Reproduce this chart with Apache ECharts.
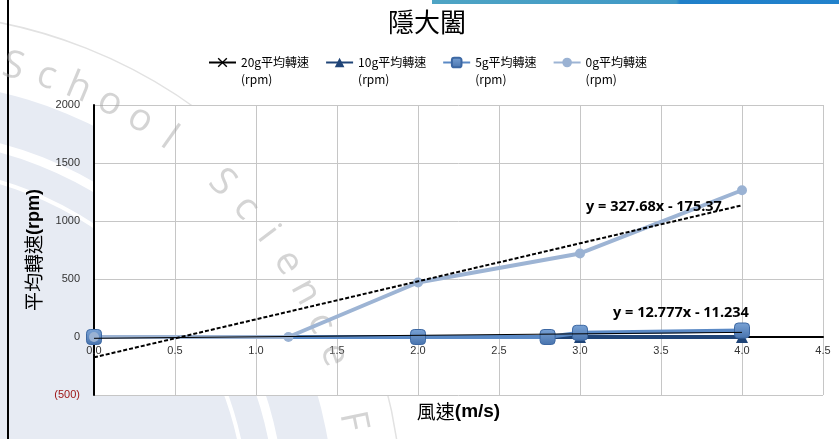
<!DOCTYPE html>
<html>
<head>
<meta charset="utf-8">
<title>隱大闔</title>
<script src="https://cdn.jsdelivr.net/npm/echarts@6/dist/echarts.min.js"></script>
<style>
  html, body { margin: 0; padding: 0; background: #fff; }
  #chart { width: 839px; height: 439px; }
</style>
</head>
<body>
<div id="chart"></div>
<script>
// 風速(m/s) 對應各載重的平均轉速(rpm)
const seriesNames = ['20g平均轉速', '10g平均轉速', '5g平均轉速', '0g平均轉速'];
const wind20 = [0, 2.0, 2.8, 3.0, 4.0];
const rpm20 = [0, 0, 0, 0, 0];
const wind10 = [0, 2.0, 2.8, 3.0, 4.0];
const rpm10 = [0, 0, 0, 0, 0];
const wind5 = [0, 2.0, 2.8, 3.0, 4.0];
const rpm5 = [0, 0, 0, 36, 56];
const wind0 = [0, 1.2, 2.0, 3.0, 4.0];
const rpm0 = [0, 0, 470, 720, 1265];

// 趨勢線兩端點 + 公式
const trendWind = [0, 4.0];
const trend0 = [-175.37, 1135.35];
const trend5 = [-11.234, 39.874];
const trendText = ['y = 327.68x - 175.37', 'y = 12.777x - 11.234'];

const watermark = 'School Science F';

const CJK = '"Noto Sans CJK TC", "Noto Sans CJK SC", sans-serif';
const LAT = '"Liberation Sans", Arial, sans-serif';
const OPEN = '"Open Sans", "Liberation Sans", sans-serif';

const pairs = (xs, ys) => xs.map((x, i) => [x, ys[i]]);

// 背景浮水印 (圓弧 + 字母)
const cx = -98, cy = 513;
const graphics = [
  { type: 'circle', shape: { cx: cx, cy: cy, r: 432 }, style: { fill: '#e7ebf3' }, z: 0, silent: true },
  { type: 'circle', shape: { cx: cx, cy: cy, r: 345 }, style: { fill: 'none', stroke: '#fff', lineWidth: 4 }, z: 0, silent: true },
  { type: 'circle', shape: { cx: cx, cy: cy, r: 378 }, style: { fill: 'none', stroke: '#fff', lineWidth: 9 }, z: 0, silent: true },
  { type: 'circle', shape: { cx: cx, cy: cy, r: 500 }, style: { fill: 'none', stroke: '#e2e2e2', lineWidth: 1.5 }, z: 0, silent: true },
  { type: 'line', shape: { x1: 8, y1: 0, x2: 8, y2: 439 }, style: { stroke: '#000', lineWidth: 2 }, z: 0, silent: true },
  {
    type: 'rect', shape: { x: 432, y: 0, width: 407, height: 4 }, z: 0, silent: true,
    style: {
      fill: new echarts.graphic.LinearGradient(0, 0, 1, 0, [
        { offset: 0, color: '#4ea4c4' },
        { offset: 0.6, color: '#3f98c6' },
        { offset: 0.61, color: '#1f7fc9' },
        { offset: 1, color: '#2282cc' }
      ])
    }
  }
];

let ang = -76;
for (const ch of watermark) {
  if (ch !== ' ') {
    const t = ang * Math.PI / 180;
    graphics.push({
      type: 'text', z: 3, silent: true,
      x: cx + 460 * Math.cos(t), y: cy + 460 * Math.sin(t),
      rotation: -(ang + 90) * Math.PI / 180,
      style: {
        text: ch, fontSize: 38, fontFamily: OPEN,
        fill: 'rgba(165,165,165,0.48)', align: 'center', verticalAlign: 'middle'
      }
    });
  }
  ang += 4.3;
}

// 趨勢線公式
graphics.push(
  { type: 'text', z: 8, silent: true, x: 654, y: 207,
    style: { text: trendText[0], fontSize: 14.5, fontWeight: 'bold', fontFamily: OPEN, fill: '#000', align: 'center', verticalAlign: 'middle' } },
  { type: 'text', z: 8, silent: true, x: 681, y: 313,
    style: { text: trendText[1], fontSize: 14.5, fontWeight: 'bold', fontFamily: OPEN, fill: '#000', align: 'center', verticalAlign: 'middle' } }
);

const xMark = 'path://M0,1L1,0L5,4L9,0L10,1L6,5L10,9L9,10L5,6L1,10L0,9L4,5Z';

const chart = echarts.init(document.getElementById('chart'));
chart.setOption({
  animation: false,
  backgroundColor: 'transparent',
  title: {
    text: '隱大闔',
    left: 388,
    top: 9,
    padding: 0,
    textStyle: { fontSize: 26, fontWeight: 'normal', fontFamily: CJK, color: '#000' }
  },
  legend: {
    data: seriesNames,
    left: 203,
    top: 32,
    itemGap: 16,
    itemWidth: 27,
    itemHeight: 12,
    // 第一行留空, 讓圖示對齊名稱那一行
    formatter: name => '\n' + name + '\n(rpm)',
    textStyle: { fontSize: 12, fontFamily: CJK, color: '#000', lineHeight: 17 }
  },
  grid: {
    left: 94, right: 16, top: 105, bottom: 44,
    outerBoundsMode: 'none',
    containLabel: false,
    show: true, backgroundColor: '#fff', borderWidth: 0, z: 1
  },
  graphic: graphics,
  xAxis: {
    type: 'value', min: 0, max: 4.5, interval: 0.5, z: 2,
    // 橫軸畫在 y=0 的位置 (0 在格線底部上方 58px)
    offset: -58,
    axisLine: { show: true, onZero: false, lineStyle: { color: '#000', width: 2 } },
    axisTick: { show: false },
    axisLabel: { margin: 8, fontSize: 11, fontFamily: LAT, color: '#333', formatter: v => v.toFixed(1) },
    splitLine: { show: true, lineStyle: { color: '#c6c6c6', width: 1 } },
    name: '{a|風速}{b|(m/s)}',
    nameLocation: 'middle',
    nameGap: 65,
    nameTextStyle: {
      rich: {
        a: { fontSize: 19, fontFamily: CJK, color: '#000' },
        b: { fontSize: 19, fontFamily: LAT, fontWeight: 'bold', color: '#000' }
      }
    }
  },
  yAxis: {
    type: 'value', min: -500, max: 2000, interval: 500, z: 2,
    axisLine: { show: true, onZero: false, lineStyle: { color: '#000', width: 2 } },
    axisTick: { show: false },
    axisLabel: {
      margin: 14, fontSize: 11, fontFamily: LAT,
      formatter: v => (v < 0 ? '(' + (-v) + ')' : String(v)),
      color: v => (Number(v) < 0 ? '#9c1010' : '#333')
    },
    splitLine: { show: true, lineStyle: { color: '#c6c6c6', width: 1 } },
    name: '{a|平均轉速}{b|(rpm)}',
    nameLocation: 'middle',
    nameRotate: 90,
    nameGap: 37,
    nameTextStyle: {
      rich: {
        a: { fontSize: 19, fontFamily: CJK, color: '#000' },
        b: { fontSize: 18, fontFamily: LAT, fontWeight: 'bold', color: '#000' }
      }
    }
  },
  series: [
    {
      name: seriesNames[0], type: 'line', z: 4, clip: false,
      data: pairs(wind20, rpm20),
      symbol: xMark, symbolSize: 8,
      itemStyle: { color: '#000' },
      lineStyle: { color: '#000', width: 1.2 }
    },
    {
      name: seriesNames[1], type: 'line', z: 4, clip: false,
      data: pairs(wind10, rpm10),
      symbol: 'triangle', symbolSize: 12,
      itemStyle: { color: '#1f4477' },
      lineStyle: { color: '#1f4477', width: 4 }
    },
    {
      name: seriesNames[2], type: 'line', z: 4, clip: false,
      data: pairs(wind5, rpm5),
      symbol: 'roundRect', symbolSize: 15,
      itemStyle: {
        color: new echarts.graphic.LinearGradient(0, 0, 0, 1, [
          { offset: 0, color: '#7aa3d6' },
          { offset: 1, color: '#4873ad' }
        ]),
        borderColor: '#3d68a3', borderWidth: 1
      },
      lineStyle: { color: '#5a89c5', width: 4 }
    },
    {
      name: seriesNames[3], type: 'line', z: 4, clip: false,
      data: pairs(wind0, rpm0),
      symbol: 'circle', symbolSize: 10,
      itemStyle: { color: '#9ab2d3' },
      lineStyle: { color: '#9db4d4', width: 4 }
    },
    {
      name: 'trend0', type: 'line', z: 6, clip: false,
      data: pairs(trendWind, trend0),
      symbol: 'none',
      lineStyle: { color: '#000', width: 2, type: [4, 2] }
    },
    {
      name: 'trend5', type: 'line', z: 6, clip: false,
      data: pairs(trendWind, trend5),
      symbol: 'none',
      lineStyle: { color: '#000', width: 1 }
    }
  ]
});
</script>
</body>
</html>
